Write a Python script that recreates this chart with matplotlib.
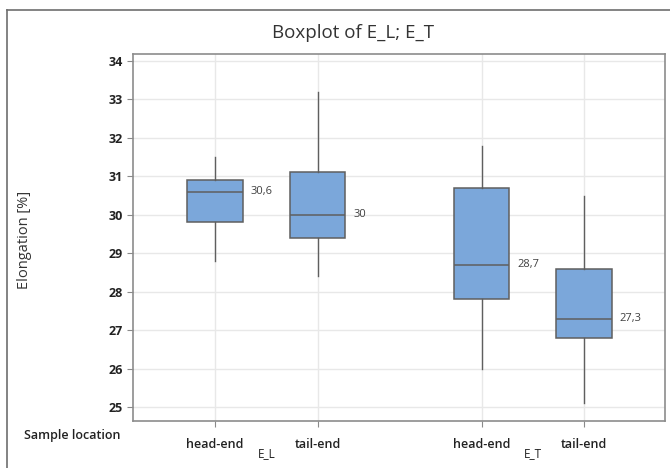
import matplotlib
matplotlib.use('Agg')
import matplotlib.pyplot as plt
import matplotlib.transforms as mtransforms
from matplotlib.lines import Line2D

# Dados (Minitab)
groups = ['E_L', 'E_T']
locations = ['head-end', 'tail-end', 'head-end', 'tail-end']
whisker_low = [28.8, 28.4, 26.0, 25.1]
q1 = [29.8, 29.4, 27.8, 26.8]
medians = [30.6, 30.0, 28.7, 27.3]
q3 = [30.9, 31.1, 30.7, 28.6]
whisker_high = [31.5, 33.2, 31.8, 30.5]
median_labels = ['30,6', '30', '28,7', '27,3']
y_ticks = [25, 26, 27, 28, 29, 30, 31, 32, 33, 34]

plt.rcParams['font.family'] = ['Open Sans', 'DejaVu Sans']

positions = [1, 2, 3.6, 4.6]
box_w = 0.54

fig = plt.figure(figsize=(6.7, 4.68), dpi=100)
ax = fig.add_axes([133 / 670, 1 - 421 / 468, (665 - 133) / 670, (421 - 54) / 468])

stats = []
for i in range(len(medians)):
    stats.append({'whislo': whisker_low[i], 'q1': q1[i], 'med': medians[i],
                  'q3': q3[i], 'whishi': whisker_high[i], 'fliers': []})

edge = '#5f5f5f'
ax.bxp(stats, positions=positions, widths=box_w, showcaps=False, patch_artist=True,
       boxprops=dict(facecolor='#7ba7da', edgecolor=edge, linewidth=1.1),
       medianprops=dict(color=edge, linewidth=1.1),
       whiskerprops=dict(color=edge, linewidth=1.0), zorder=3)

for p, m, lab in zip(positions, medians, median_labels):
    ax.text(p + box_w / 2 + 0.08, m, lab, fontsize=8, color='#404040',
            va='center', ha='left')

ax.set_xlim(0.2, 5.39)
ax.set_ylim(24.64, 34.18)
ax.set_yticks(y_ticks)
ax.set_yticklabels([str(t) for t in y_ticks], fontsize=9, fontweight='bold', color='#222222')
ax.set_xticks(positions)
ax.set_xticklabels(locations, fontsize=9, fontweight='semibold', color='#222222')
ax.tick_params(axis='both', colors='#8a8a8a', labelcolor='#222222', length=4, width=0.8)
ax.tick_params(axis='x', pad=8)
ax.grid(True, color='#e8e8e8', linewidth=1.0, zorder=0)
ax.set_axisbelow(True)
for s in ax.spines.values():
    s.set_color('#8c8c8c')
    s.set_linewidth(1.2)

# rótulos dos grupos abaixo do eixo
trans = mtransforms.blended_transform_factory(ax.transData, fig.transFigure)
for g, (a, b) in zip(groups, [(positions[0], positions[1]), (positions[2], positions[3])]):
    fig.text((a + b) / 2, 1 - 454 / 468, g, transform=trans, fontsize=8.5,
             ha='center', va='center', color='#222222')

fig.text(120 / 670, 1 - 435 / 468, 'Sample location', fontsize=9, fontweight='semibold',
         ha='right', va='center', color='#222222')
fig.text(25 / 670, 1 - 240 / 468, 'Elongation [%]', fontsize=10.5, rotation=90,
         ha='center', va='center', color='#333333')
fig.text(353 / 670, 1 - 33 / 468, 'Boxplot of E_L; E_T', fontsize=13.5,
         ha='center', va='center', color='#333333')

# moldura da figura (cortada à direita e embaixo)
fig.add_artist(Line2D([7 / 670, 1], [1 - 10 / 468, 1 - 10 / 468], transform=fig.transFigure,
                      color='#6e6e6e', linewidth=1.2))
fig.add_artist(Line2D([7 / 670, 7 / 670], [0, 1 - 10 / 468], transform=fig.transFigure,
                      color='#6e6e6e', linewidth=1.2))

fig.savefig('out.png', dpi=100)
